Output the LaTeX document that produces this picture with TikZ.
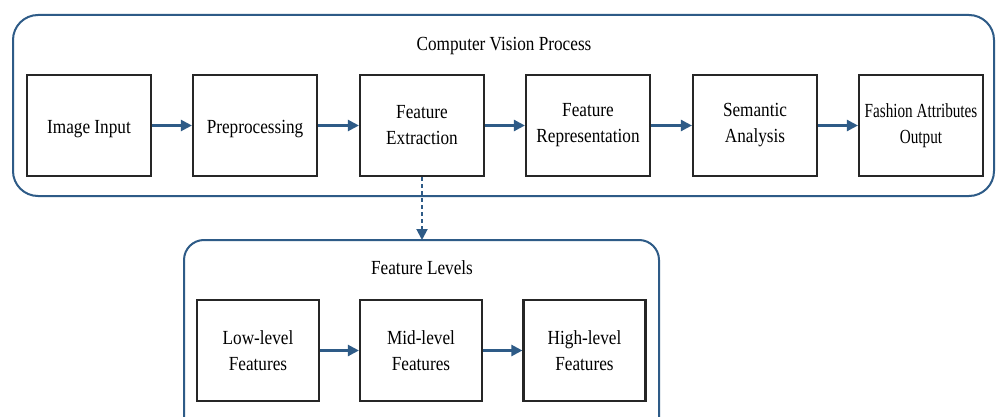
\documentclass[tikz,border=0pt]{standalone}
\usepackage{fontspec}
\setmainfont[FakeStretch=0.86]{Liberation Serif}
\newfontfamily\narrowfont[FakeStretch=0.76]{Liberation Serif}
\usetikzlibrary{arrows.meta}
\definecolor{flowblue}{HTML}{2E5B87}
\definecolor{boxgray}{HTML}{262626}
\tikzset{
  x=1pt, y=1pt,
  stagebox/.style={draw=boxgray, line width=2.2pt, fill=white,
    minimum width=124pt, minimum height=101pt, inner sep=0pt,
    align=center, font=\fontsize{20}{26}\selectfont,
    execute at begin node={\rule{0pt}{20pt}}},
  levelbox/.style={stagebox, minimum width=122pt},
  group/.style={draw=flowblue, line width=2pt},
  flow/.style={draw=flowblue, line width=2.4pt,
    -{Triangle[length=11pt, width=11pt]}},
  heading/.style={font=\fontsize{20}{26}\selectfont, inner sep=0pt}
}
\begin{document}
\begin{tikzpicture}
  \clip (0,0) rectangle (1000,-417);
  \fill[white] (0,0) rectangle (1000,-417);

  % containers
  \draw[group, rounded corners=25pt] (13,-15) rectangle (994,-196);
  \node[heading] (cvtitle) at (504,-46) {Computer Vision Process};

  \draw[group, rounded corners=20pt] (184,-240) rectangle (659,-445);
  \node[heading] (fltitle) at (422,-268) {Feature Levels};
  \coordinate (fltop) at (422,-240);

  % pipeline stages
  \node[stagebox] (img)  at (89,-125.5)  {Image Input};
  \node[stagebox] (pre)  at (255,-125.5) {Preprocessing};
  \node[stagebox] (fext) at (422,-125.5) {Feature\\Extraction};
  \node[stagebox] (frep) at (588,-125.5) {Feature\\Representation};
  \node[stagebox] (sem)  at (755,-125.5) {Semantic\\Analysis};
  \node[stagebox, font=\fontsize{20}{26}\narrowfont] (out) at (921,-125.5)
    {Fashion Attributes\\Output};

  % feature levels
  \node[levelbox] (low)  at (258,-350.5)   {Low-level\\Features};
  \node[levelbox] (mid)  at (421,-350.5)   {Mid-level\\Features};
  \node[levelbox] (high) at (584.5,-350.5) {High-level\\Features};

  % connectors
  \draw[flow] (img) -- (pre);
  \draw[flow] (pre) -- (fext);
  \draw[flow] (fext) -- (frep);
  \draw[flow] (frep) -- (sem);
  \draw[flow] (sem) -- (out);
  \draw[flow] (low) -- (mid);
  \draw[flow] (mid) -- (high);
  \draw[flow, line width=2pt, dash pattern=on 4pt off 3pt] (fext.south) -- (fltop);
\end{tikzpicture}
\end{document}
